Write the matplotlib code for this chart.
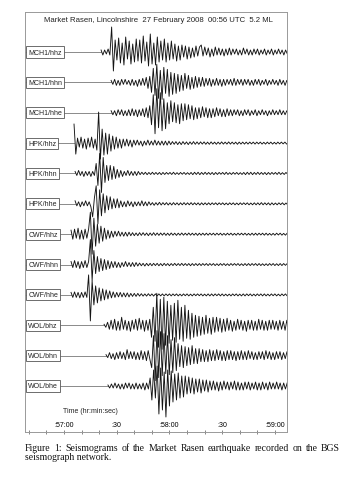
import numpy as np
import matplotlib
matplotlib.use("Agg")
import matplotlib.pyplot as plt
from matplotlib.transforms import blended_transform_factory

# ---------------- data ----------------
TITLE = "Market Rasen, Lincolnshire  27 February 2008  00:56 UTC  5.2 ML"
channels = ["MCH1/hhz", "MCH1/hhn", "MCH1/hhe",
            "HPK/hhz", "HPK/hhn", "HPK/hhe",
            "CWF/hhz", "CWF/hhn", "CWF/hhe",
            "WOL/bhz", "WOL/bhn", "WOL/bhe"]

# onset time of each trace, seconds after 00:57:00
onsets = [21.1, 26.8, 26.8, 5.7, 6.3, 6.3, 4.0, 4.0, 4.0, 22.8, 23.9, 25.0]
SAMPLE_STEP = 1.0  # seconds between read-off peaks

# signed peak amplitudes (up = positive)
mch1_hhz = [2, -3, 2, -2, 3, -3,
            25,
            -19, 12, -8, 14, -11, 9, -13, 15, -7, 11, -12, 8, -10, 13, -9,
            12, -11, 16, -9, 10, -14, 18, -12, 9, -13, 15, -10, 11, -8, 13,
            -10, 9, -8, 11, -7, 8, -9, 6, -8, 7, -5, 6, -7, 5, -6, 4, -5, 6, -4, 5,
            7, -4, 5, -3, 4, -5, 3, -4, 5, -3, 4, -3, 3, -4, 3, -3, 4,
            -3, 3, -2, 3, -3, 2, -3, 4, -2, 3, -3, 2, -3, 3, -2, 3, -3, 2, -2, 3,
            -3, 2, -2, 3, -3, 2, -2, 3, -2, 2, -3, 2, -2, 2]
mch1_hhn = [2, -2, 3, -3, 2, -3, 3, -2, 3, -2, 2, -3, 3, -3, 2, -4, 3, -3, 4, -3,
            5, -6, 6,
            -10, 14, -13, 18, -16, 12, -17, 15, -11, 13, -14, 10, -12, 9, -11,
            8, -9, 7, -8, 9, -6, 7, -7, 5, -6, 6, -5, 5, -4, 5,
            -4, 4, -3, 4, -4, 3, -3, 4, -3, 3, -4, 3, -3, 3, -2, 3, -3, 4, -3, 3, -2, 3, -3,
            3, -2, 3, -3, 2, -3, 3, -2, 3, -3, 2, -2, 3, -3, 2, -2, 3, -2, 2, -3, 3, -2,
            2, -3, 2, -2]
mch1_hhe = [2, -2, 2, -3, 3, -2, 3, -3, 2, -3, 3, -3, 4, -3, 3, -4, 3, -3, 4, -4,
            5, -5, 7,
            -12, 18, -21, 24, -15, 20, -18, 14, -16,
            10, -11, 12, -9, 10, -10, 8, -11, 9, -8, 9, -7, 8, -6, 7, -7,
            5, -6, 5, -5, 6, -4, 5, -5, 4, -5, 4, -4, 5, -3, 4, -4, 3, -4, 4, -3,
            3, -3, 3, -2, 3, -3, 2, -3, 3, -2, 3, -3, 2, -2, 3, -3, 2, -2, 3, -2,
            2, -3, 2, -2, 3, -2, 2, -2, 3, -2, 2, -2, 2, -2]
hpk_hhz = [19, -11,
           5, -4, 6, -5, 4, -6, 5, -4, 6, -5, 4, -7,
           31, -16,
           14, -12, 10, -11, 9, -8, 7, -6,
           6, -5, 4, -5, 4, -3, 4, -3, 3, -4, 3,
           -2, 3, -2, 2, -3, 2, -2, 3, -2, 2, -2, 3, -2, 2, -2, 2, -2, 2, -2, 2,
           -1.5, 1.5, -1.2, 1.5, -1.5, 1.2, -1.5, 1.5, -1.2, 1.2,
           -1.5, 1.2, -1.2, 1.5, -1.2, 1.2, -1.2, 1.2, -1, 1.2,
           -1.2, 1, -1.2, 1.2, -1, 1, -1.2, 1, -1, 1.2,
           -1, 1, -1, 1.2, -1, 1, -1, 1, -1.2, 1,
           -1, 1, -1, 1, -1, 1, -0.8, 1, -1, 1,
           -0.8, 1, -1, 0.8, -1, 1, -0.8, 1, -1, 0.8,
           -1, 1, -0.8, 1, -0.8, 1, -1, 0.8, -1, 1]
hpk_hhn = [2, -2, 3, -2, 2, -3, 2, -2, 2, -3, 2, -2,
           10, -12, 20, -19, 16,
           -9, 8, -7, 8, -6, 7,
           -5, 4, -4, 3,
           -3, 2, -2, 3, -2, 2, -2, 2, -2, 2,
           -1.2, 1.2, -1, 1.2, -1.2, 1, -1, 1.2, -1, 1,
           -1, 1, -1.2, 1, -1, 1, -0.8, 1, -1, 1.2,
           -1, 0.8, -1, 1, -0.8, 1, -1, 0.8, -1, 1,
           -1.2, 1.2, -1, 1.2, -1.2, 1, -1, 1.2, -1, 1,
           -1, 1, -1.2, 1, -1, 1, -0.8, 1, -1, 1.2,
           -1, 0.8, -1, 1, -0.8, 1, -1, 0.8, -1, 1,
           -1.2, 1.2, -1, 1.2, -1.2, 1, -1, 1.2, -1, 1,
           -1, 1, -1.2, 1, -1, 1, -0.8, 1, -1, 1.2,
           -1, 0.8, -1, 1, -0.8, 1, -1, 0.8, -1, 1]
hpk_hhe = [3, -2, 2, -3, 2, -2, 3, -2, 2, -3,
           -13, 6,
           18, -20, 14, -12, 10,
           -9, 8, -6, 7, -5, 5, -4, 5, -4,
           3, -3, 2, -3, 3, -2, 2, -3, 2, -2, 2, -2, 3, -2, 2, -2, 2,
           -1.2, 1.2, -1.5, 1.2, -1.2, 1.5, -1.2, 1.2, -1, 1.2,
           -1.2, 1, -1.2, 1.2, -1, 1, -1.2, 1, -1, 1.2,
           -1, 1, -1, 1.2, -1, 1, -1, 1, -1.2, 1,
           -1, 1, -1, 1, -1, 1, -0.8, 1, -1, 1,
           -0.8, 1, -1, 0.8, -1, 1, -0.8, 1, -1, 0.8,
           -1, 1, -0.8, 1, -0.8, 1, -1, 0.8, -1, 1,
           -1, 1, -1, 1.2, -1, 1, -1, 1, -1.2, 1,
           -1, 0.8, -1, 1, -0.8, 1, -1, 0.8, -1, 1]
cwf_hhz = [4, -5, 5, -4, 6, -5, 4, -5, 5, -4, 5,
           22, -20, 16,
           -12, 10, -9, 8, -7, 6,
           -5, 4, -4, 3, -3, 3, -2, 3, -2, 2, -2, 2, -2, 2,
           -1.5, 1.5, -1.5, 1.2, -1.5, 1.5, -1.2, 1.5, -1.2, 1.2,
           -1.5, 1.2, -1.2, 1.5, -1.2, 1.2, -1.2, 1.2, -1, 1.2,
           -1.2, 1, -1.2, 1.2, -1, 1, -1.2, 1, -1, 1.2,
           -1, 1, -1, 1.2, -1, 1, -1, 1, -1.2, 1,
           -1, 1, -1, 1, -1, 1, -0.8, 1, -1, 1,
           -0.8, 1, -1, 0.8, -1, 1, -0.8, 1, -1, 0.8,
           -1, 1, -0.8, 1, -0.8, 1, -1, 0.8, -1, 1,
           -1, 1, -1, 1, -0.8, 1, -1, 1, -1, 0.8,
           -1, 0.8, -1, 1, -0.8, 1, -1, 0.8, -1, 1]
cwf_hhn = [3, -3, 4, -3, 3, -4, 3, -3, 4, -3, 3,
           25, -16, 14,
           -9, 8, -7, 6, -6, 5, -5, 4, -4,
           3, -3, 3, -3, 2, -3, 2, -2, 3, -2, 2, -2, 2, -2, 2, -1.5, 1.5,
           -1.2, 1.2, -1.5, 1.2, -1.2, 1.2, -1.2, 1.2, -1, 1.2,
           -1.2, 1, -1.2, 1.2, -1, 1, -1.2, 1, -1, 1.2,
           -1, 1, -1, 1.2, -1, 1, -1, 1, -1.2, 1,
           -1, 1, -1, 1, -1, 1, -0.8, 1, -1, 1,
           -0.8, 1, -1, 0.8, -1, 1, -0.8, 1, -1, 0.8,
           -1, 1, -0.8, 1, -0.8, 1, -1, 0.8, -1, 1,
           -1, 1, -1, 1, -0.8, 1, -1, 1, -1, 0.8,
           -1, 0.8, -1, 1, -0.8, 1, -1, 0.8, -1, 1,
           -1, 1, -0.8, 1, -1, 0.8, -1, 1, -0.8, 1]
cwf_hhe = [2.5, -2.5, 3, -2.5, 2.5, -3, 2.5, -2.5, 3, -2.5,
           20, -26, 14,
           -10, 9, -8, 7, -6, 6, -5, 5, -4, 4,
           -3, 3, -2.5, 2.5, -2, 2.5, -2, 2, -2, 2, -2, 1.5, -1.5, 1.5, -1.5, 1.5, -1.2,
           1.2, -1.2, 1, -1.2, 1.2, -1, 1, -1.2, 1, -1,
           1, -1, 1, -1, 1, -0.8, 1, -1, 1, -0.8,
           1, -1, 0.8, -1, 1, -0.8, 1, -1, 0.8, -1,
           1, -0.8, 1, -0.8, 1, -1, 0.8, -1, 1, -1,
           1, -1, 1, -0.8, 1, -1, 1, -1, 0.8, -1,
           0.8, -1, 1, -0.8, 1, -1, 0.8, -1, 1, -1,
           1, -0.8, 1, -1, 0.8, -1, 1, -0.8, 1, -1,
           1, -1, 0.8, -1, 1, -0.8, 1, -1, 0.8, -1,
           1, -0.8, 1, -1, 1, -0.8, 1, -1, 0.8, -1]
wol_bhz = [1, -2, 3,
           -4, 5, -4, 6, -5, 4, -5, 8, -4, 5, -5, 4, -6, 5, -4, 6, -5, 7, -4, 5, -6, 5, -5, 6,
           -12, 18, -16, 32, -22, 26, -24, 28, -20, 24,
           -18, 20, -15, 22, -17, 25, -14, 18, -16, 20, -13, 15, -14, 12, -12,
           10, -11, 9, -10, 8, -9, 10, -8, 7, -9, 8, -7, 8, -6, 7, -7, 6, -6, 7, -5,
           5, -6, 4, -5, 6, -4, 5, -5, 4, -6, 5, -4, 5, -5, 4, -5, 6, -4, 5, -5,
           4, -5, 5, -4, 5, -4, 4, -5, 5, -4, 4, -5, 5, -4, 4]
wol_bhn = [1, -2, 3, -3, 2, -4, 3, -3, 4, -3, 3, -4, 6, -3, 4, -3, 4, -4, 3, -4,
           5, -4, 4, -5, 5, -4,
           -12, 20, -25, 25, -22, 24,
           -20, 22, -18, 20, -19, 16, -17, 18, -15,
           12, -11, 10, -12, 9, -10, 8, -9, 10, -8, 7, -8, 7, -6,
           6, -6, 5, -6, 6, -5, 5, -5, 6, -4, 5, -5, 4, -5, 5, -4, 5, -4, 4, -5, 4, -4, 5,
           -4, 4, -4, 5, -3, 4, -4, 3, -4, 4, -3, 4, -4, 5, -3, 4, -4, 3, -4, 4,
           -3, 4, -4, 3, -3, 4, -3]
wol_bhe = [1, -2, 2, -2, 3, -2, 2, -3, 2, -3, 3, -2, 3, -3, 2, -3, 3, -3, 2, -3,
           3, -4, 3, -3,
           8, -14, 16, -12, 20, -28, 18, -24, 14, -31, 16, -20,
           15, -16, 12, -14, 13, -12, 10, -11, 10,
           -8, 9, -7, 8, -8, 7, -6, 7, -7, 6, -5, 6, -6, 5,
           -4, 5, -4, 4, -5, 4, -4, 5, -3, 4, -4, 4, -3, 5, -4, 4, -4, 3, -4, 4,
           -3, 4, -4, 3, -3, 4, -4, 3, -4, 4, -3, 3, -4, 4, -3, 3, -3, 4, -3, 3,
           -4, 3, -3, 3]

traces = [mch1_hhz, mch1_hhn, mch1_hhe, hpk_hhz, hpk_hhn, hpk_hhe,
          cwf_hhz, cwf_hhn, cwf_hhe, wol_bhz, wol_bhn, wol_bhe]

tick_values = [0, 30, 60, 90, 120]
tick_labels = [":57:00", ":30", ":58:00", ":30", ":59:00"]
XLABEL = "Time (hr:min:sec)"
CAPTION1 = "Figure 1: Seismograms of the Market Rasen earthquake recorded on the BGS"
CAPTION2 = "seismograph network."

# ---------------- layout ----------------
W, H = 345, 485
fig = plt.figure(figsize=(W / 100, H / 100), dpi=100)
ax_l, ax_r, ax_t, ax_b = 25, 287, 13, 433
ax = fig.add_axes([ax_l / W, 1 - ax_b / H, (ax_r - ax_l) / W, (ax_b - ax_t) / H])

XMIN, XMAX = -22.2, 126.9
SPACING = 30.36
TOP_PAD = 40.0
ax.set_xlim(XMIN, XMAX)
ax.set_ylim(-(11 * SPACING) - 46.0, TOP_PAD)

sans = ["Liberation Sans", "DejaVu Sans"]
trans = blended_transform_factory(ax.transAxes, ax.transData)

for i, (name, onset, amps) in enumerate(zip(channels, onsets, traces)):
    base = -i * SPACING
    a = np.asarray(amps, dtype=float)
    t = onset + SAMPLE_STEP * np.arange(len(a))
    ax.plot([XMIN, onset], [base, base], color="#777777", lw=0.6, zorder=2)
    ax.plot(t, base + a, color="#141414", lw=0.65, zorder=3)
    ax.text(0.012, base, name, transform=trans, ha="left", va="center",
            fontsize=5.0, family=sans, color="#222222", zorder=5,
            bbox=dict(boxstyle="square,pad=0.3", fc="white", ec="#555555", lw=0.6))

for s in ax.spines.values():
    s.set_color("#999999")
    s.set_linewidth(0.7)

ax.set_yticks([])
ax.set_xticks(tick_values, labels=tick_labels)
ax.set_xticks(np.arange(-20, 127, 10), minor=True)
ax.tick_params(axis="x", which="both", direction="inout", length=2.5, width=0.5,
               color="#555555", pad=-9.5, labelsize=5.0)
for lab in ax.get_xticklabels():
    lab.set_family(sans)

ax.text(0.508, 0.981, TITLE, transform=ax.transAxes, ha="center", va="center",
        fontsize=5.6, family=sans, color="#222222")
ax.text(0.248, 0.052, XLABEL, transform=ax.transAxes, ha="center", va="center",
        fontsize=5.0, family=sans, color="#222222")

# caption, line 1 justified
serif = ["Liberation Serif", "DejaVu Serif"]
fig.canvas.draw()
renderer = fig.canvas.get_renderer()
words = CAPTION1.split()
cap_y1 = 1 - 449 / H
cap_y2 = 1 - 458 / H
objs = [fig.text(0, cap_y1, w, ha="left", va="center", fontsize=7.0, family=serif,
                 color="#111111") for w in words]
widths = [o.get_window_extent(renderer).width for o in objs]
x0, x1 = 25, 340
gap = (x1 - x0 - sum(widths)) / (len(words) - 1)
pos = x0
for o, w in zip(objs, widths):
    o.set_position((pos / W, cap_y1))
    pos += w + gap
fig.text(x0 / W, cap_y2, CAPTION2, ha="left", va="center", fontsize=7.0, family=serif,
         color="#111111")

fig.savefig("out.png", dpi=100)
